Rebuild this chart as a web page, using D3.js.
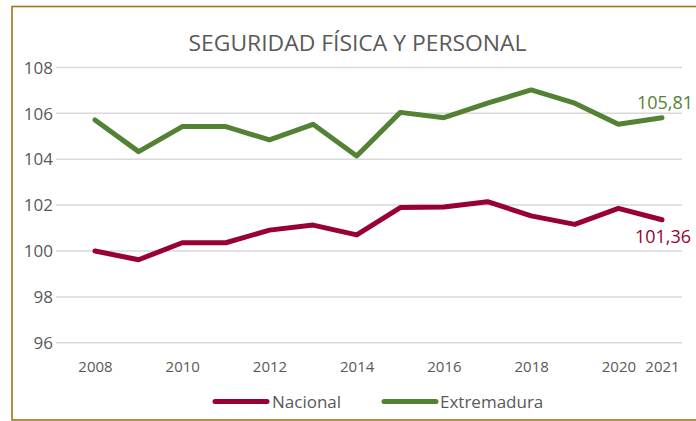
<!DOCTYPE html>
<html>
<head>
<meta charset="utf-8">
<script src="https://cdn.jsdelivr.net/npm/d3@7"></script>
<style>
  html, body { margin: 0; padding: 0; background: #fff; }
  svg { display: block; font-family: 'Open Sans', sans-serif; }
</style>
</head>
<body>
<svg id="chart" width="696" height="421"></svg>
<script>
const years = [2008, 2009, 2010, 2011, 2012, 2013, 2014, 2015, 2016, 2017, 2018, 2019, 2020, 2021];
const nacional = [100.0, 99.62, 100.36, 100.36, 100.91, 101.13, 100.70, 101.89, 101.92, 102.15, 101.53, 101.16, 101.86, 101.36];
const extremadura = [105.71, 104.33, 105.42, 105.42, 104.84, 105.52, 104.14, 106.04, 105.81, 106.44, 107.02, 106.44, 105.52, 105.81];
const xTicks = [2008, 2010, 2012, 2014, 2016, 2018, 2020, 2021];
const yTicks = [96, 98, 100, 102, 104, 106, 108];
const seriesNames = ['Nacional', 'Extremadura'];
const lastLabels = ['101,36', '105,81'];

const colors = ['#990033', '#548235'];
const textColor = '#595959';

const svg = d3.select('#chart');

// outer frame (right edge is cut off in the original)
svg.append('rect')
  .attr('x', 12).attr('y', 6.5)
  .attr('width', 700).attr('height', 413.5)
  .attr('fill', 'none')
  .attr('stroke', '#9a7a12')
  .attr('stroke-width', 1.6);

const x = d3.scaleLinear().domain([2008, 2021]).range([95, 662]);
const y = d3.scaleLinear().domain([96, 108]).range([342.8, 67.4]);

// gridlines
svg.append('g')
  .selectAll('line')
  .data(yTicks)
  .join('line')
  .attr('x1', 56).attr('x2', 682)
  .attr('y1', d => y(d)).attr('y2', d => y(d))
  .attr('stroke', '#d9d9d9')
  .attr('stroke-width', 1.5);

// y axis labels
const yAxis = svg.append('g')
  .attr('transform', 'translate(53,0)')
  .call(d3.axisLeft(y).tickValues(yTicks).tickSize(0).tickPadding(0).tickFormat(d3.format('d')));
yAxis.select('.domain').remove();
yAxis.selectAll('text')
  .attr('fill', textColor)
  .attr('font-size', 17)
  .attr('font-family', "'Open Sans', sans-serif")
  .attr('dy', '0.34em');

// x axis labels
const xAxis = svg.append('g')
  .attr('transform', 'translate(0,358)')
  .call(d3.axisBottom(x).tickValues(xTicks).tickSize(0).tickPadding(0).tickFormat(d3.format('d')));
xAxis.select('.domain').remove();
xAxis.selectAll('text')
  .attr('fill', textColor)
  .attr('font-size', 15)
  .attr('font-family', "'Open Sans', sans-serif")
  .attr('dy', '0.9em');

// lines
const line = d3.line()
  .x((d, i) => x(years[i]))
  .y(d => y(d));

[nacional, extremadura].forEach((values, k) => {
  svg.append('path')
    .attr('d', line(values))
    .attr('fill', 'none')
    .attr('stroke', colors[k])
    .attr('stroke-width', 5)
    .attr('stroke-linejoin', 'round')
    .attr('stroke-linecap', 'round');
});

// end value labels
svg.append('text')
  .attr('x', x(2021) + 1).attr('y', y(nacional[13]) + 23)
  .attr('text-anchor', 'middle')
  .attr('fill', colors[0])
  .attr('font-size', 18)
  .text(lastLabels[0]);

svg.append('text')
  .attr('x', x(2021) + 3).attr('y', y(extremadura[13]) - 9)
  .attr('text-anchor', 'middle')
  .attr('fill', colors[1])
  .attr('font-size', 18)
  .text(lastLabels[1]);

// title
svg.append('text')
  .attr('x', 357.5).attr('y', 51)
  .attr('text-anchor', 'middle')
  .attr('fill', textColor)
  .attr('font-size', 22)
  .attr('textLength', 338)
  .attr('lengthAdjust', 'spacingAndGlyphs')
  .text('SEGURIDAD FÍSICA Y PERSONAL');

// legend
const legendItems = [
  { name: seriesNames[0], color: colors[0], x1: 215, x2: 267, tx: 272 },
  { name: seriesNames[1], color: colors[1], x1: 384, x2: 436, tx: 440 }
];
const legend = svg.append('g');
legendItems.forEach(d => {
  legend.append('line')
    .attr('x1', d.x1).attr('x2', d.x2)
    .attr('y1', 401.5).attr('y2', 401.5)
    .attr('stroke', d.color)
    .attr('stroke-width', 5)
    .attr('stroke-linecap', 'round');
  legend.append('text')
    .attr('x', d.tx).attr('y', 407.5)
    .attr('fill', textColor)
    .attr('font-size', 17)
    .text(d.name);
});
</script>
</body>
</html>
